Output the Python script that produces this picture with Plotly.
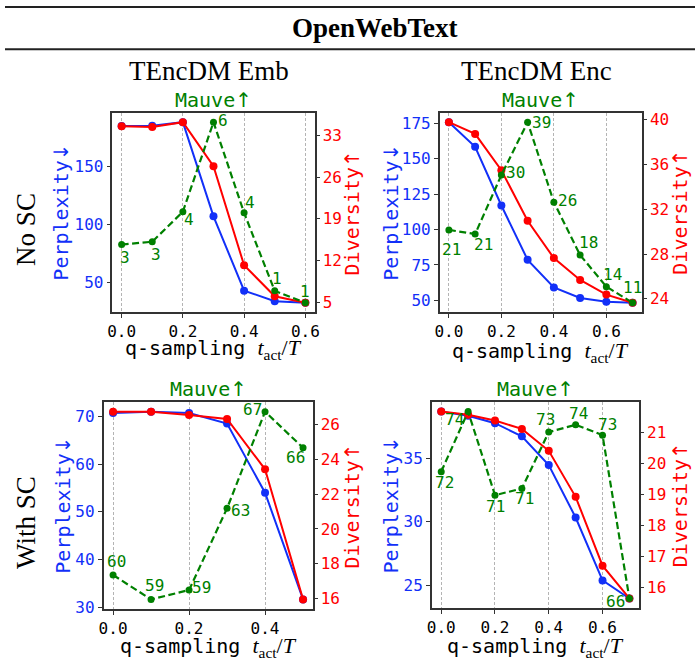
import plotly.graph_objects as go

W, H = 700, 664

# ---------------- data ----------------
t_emb_nosc = [0.0, 0.1, 0.2, 0.3, 0.4, 0.5, 0.6]
ppl_emb_nosc = [185.3, 185.7, 188.7, 107.1, 42.7, 33.6, 32.2]
div_emb_nosc = [34.5, 34.4, 35.2, 27.8, 11.2, 6.0, 4.9]
mauve_emb_nosc = [2.61, 2.69, 3.52, 6.0, 3.49, 1.33, 1.0]
mauve_lbl_emb_nosc = ["3", "3", "4", "6", "4", "1", "1"]

t_enc_nosc = [0.0, 0.1, 0.2, 0.3, 0.4, 0.5, 0.6, 0.7]
ppl_enc_nosc = [175.7, 158.3, 116.9, 78.6, 59.1, 51.7, 49.0, 48.3]
div_enc_nosc = [39.79, 38.74, 35.49, 30.98, 27.64, 25.69, 24.38, 23.65]
mauve_enc_nosc = [22.3, 21.65, 30.8, 39.0, 26.6, 18.4, 13.5, 11.0]
mauve_lbl_enc_nosc = ["21", "21", "30", "39", "26", "18", "14", "11"]

t_emb_sc = [0.0, 0.1, 0.2, 0.3, 0.4, 0.5]
ppl_emb_sc = [70.7, 71.0, 70.7, 68.5, 54.0, 31.6]
div_emb_sc = [26.76, 26.76, 26.57, 26.34, 23.44, 15.94]
mauve_emb_sc = [60.04, 59.0, 59.4, 62.88, 67.0, 65.46]
mauve_lbl_emb_sc = ["60", "59", "59", "63", "67", "66"]

t_enc_sc = [0.0, 0.1, 0.2, 0.3, 0.4, 0.5, 0.6, 0.7]
ppl_enc_sc = [38.66, 38.33, 37.75, 36.72, 34.46, 30.33, 25.38, 23.96]
div_enc_sc = [21.68, 21.58, 21.39, 21.12, 20.41, 18.92, 16.69, 15.63]
mauve_enc_sc = [71.77, 74.5, 70.7, 71.0, 73.57, 73.9, 73.43, 66.0]
mauve_lbl_enc_sc = ["72", "74", "71", "71", "73", "74", "73", "66"]

xticks_a = [0.0, 0.2, 0.4, 0.6]
xticks_b = [0.0, 0.2, 0.4]
ppl_ticks_1 = [50, 100, 150]
div_ticks_1 = [5, 12, 19, 26, 33]
ppl_ticks_2 = [50, 75, 100, 125, 150, 175]
div_ticks_2 = [24, 28, 32, 36, 40]
ppl_ticks_3 = [30, 40, 50, 60, 70]
div_ticks_3 = [16, 18, 20, 22, 24, 26]
ppl_ticks_4 = [25, 30, 35]
div_ticks_4 = [16, 17, 18, 19, 20, 21, 22]

# ---------------- styling / layout (pixels) ----------------
BLUE = "#1230f8"
RED = "#ff0000"
GREEN = "#008000"
MONO = "DejaVu Sans Mono"
SERIF = "Liberation Serif"

panels = [
    dict(t=t_emb_nosc, ppl=ppl_emb_nosc, div=div_emb_nosc, mv=mauve_emb_nosc, lbl=mauve_lbl_emb_nosc,
         xt=xticks_a, pt=ppl_ticks_1, dt=div_ticks_1, rect=(109, 112, 314, 314),
         off=[(3.3, 12.7), (3.3, 12.3), (6.3, 8), (10, -1.3), (6, -10), (2.7, -12), (0, -11.7)],
         ppl_x=57, div_x=352, xl_y=352),
    dict(t=t_enc_nosc, ppl=ppl_enc_nosc, div=div_enc_nosc, mv=mauve_enc_nosc, lbl=mauve_lbl_enc_nosc,
         xt=xticks_a, pt=ppl_ticks_2, dt=div_ticks_2, rect=(441, 112, 646, 314),
         off=[(3, 19.7), (8.3, 10.7), (14.3, -2.3), (14.3, 0), (13.3, -2), (8.3, -12.3), (6, -12.3), (0, -15)],
         ppl_x=392, div_x=685, xl_y=355),
    dict(t=t_emb_sc, ppl=ppl_emb_sc, div=div_emb_sc, mv=mauve_emb_sc, lbl=mauve_lbl_emb_sc,
         xt=xticks_b, pt=ppl_ticks_3, dt=div_ticks_3, rect=(100, 406, 312, 616),
         off=[(3.3, -13.3), (3.7, -13.7), (12.7, -2.3), (13.3, 2.3), (-12.3, -2.3), (-7.7, 10)],
         ppl_x=58, div_x=352, xl_y=655),
    dict(t=t_enc_sc, ppl=ppl_enc_sc, div=div_enc_sc, mv=mauve_enc_sc, lbl=mauve_lbl_enc_sc,
         xt=xticks_a, pt=ppl_ticks_4, dt=div_ticks_4, rect=(433, 406, 643, 615),
         off=[(3.3, 11.3), (-13.7, 8.3), (0.3, 11.7), (2.3, 10), (-3.3, -12.3), (2.7, -11.7), (5.3, -10.7), (-14.3, 2.7)],
         ppl_x=392, div_x=685, xl_y=655),
]


def padded(vals, frac=0.05):
    lo, hi = min(vals), max(vals)
    d = (hi - lo) * frac
    return [lo - d, hi + d]


def px(x):
    return x / W


def py(y):
    return 1 - y / H


fig = go.Figure()
layout = dict(
    width=W, height=H, margin=dict(l=0, r=0, t=0, b=0),
    paper_bgcolor="white", plot_bgcolor="white", showlegend=False,
)
annotations = []
shapes = []

for i, p in enumerate(panels):
    n = i + 1
    xa = f"x{n}" if n > 1 else "x"
    ya1, ya2, ya3 = f"y{3*i+1}" if i > 0 else "y", f"y{3*i+2}", f"y{3*i+3}"
    xkey = f"xaxis{n}" if n > 1 else "xaxis"
    yk1 = f"yaxis{3*i+1}" if i > 0 else "yaxis"
    yk2, yk3 = f"yaxis{3*i+2}", f"yaxis{3*i+3}"
    x0, y0, x1, y1 = p["rect"]

    layout[xkey] = dict(
        domain=[px(x0), px(x1)], anchor=ya1, range=padded(p["t"]),
        tickvals=p["xt"], tickformat=".1f", ticks="outside", ticklen=4, tickwidth=1,
        tickcolor="#333", tickfont=dict(family=MONO, size=16, color="black"),
        showline=True, mirror=True, linecolor="#333", linewidth=1.5,
        showgrid=True, gridcolor="#b4b4b4", gridwidth=0.8, griddash="3px,2px", zeroline=False,
    )
    layout[yk1] = dict(
        domain=[py(y1), py(y0)], anchor=xa, range=padded(p["ppl"]),
        tickvals=p["pt"], ticks="outside", ticklen=4, tickwidth=1, tickcolor="#333",
        tickfont=dict(family=MONO, size=16, color=BLUE),
        showline=True, mirror=True, linecolor="#333", linewidth=1.5,
        showgrid=False, zeroline=False,
    )
    layout[yk2] = dict(
        overlaying=ya1, anchor=xa, side="right", range=padded(p["div"]),
        tickvals=p["dt"], ticks="outside", ticklen=4, tickwidth=1, tickcolor="#333",
        tickfont=dict(family=MONO, size=16, color=RED),
        showline=False, showgrid=False, zeroline=False,
    )
    layout[yk3] = dict(overlaying=ya1, anchor=xa, range=padded(p["mv"]), visible=False)

    fig.add_trace(go.Scatter(x=p["t"], y=p["ppl"], xaxis=xa, yaxis=ya1, mode="lines+markers",
                             line=dict(color=BLUE, width=2), marker=dict(color=BLUE, size=8)))
    fig.add_trace(go.Scatter(x=p["t"], y=p["mv"], xaxis=xa, yaxis=ya3, mode="lines+markers",
                             line=dict(color=GREEN, width=2.2, dash="7px,3.5px"),
                             marker=dict(color=GREEN, size=7)))
    fig.add_trace(go.Scatter(x=p["t"], y=p["div"], xaxis=xa, yaxis=ya2, mode="lines+markers",
                             line=dict(color=RED, width=2), marker=dict(color=RED, size=8)))

    for xv, yv, txt, (dx, dy) in zip(p["t"], p["mv"], p["lbl"], p["off"]):
        annotations.append(dict(x=xv, y=yv, xref=xa, yref=ya3, text=txt, showarrow=False,
                                xshift=dx, yshift=-dy, xanchor="center", yanchor="middle",
                                font=dict(family=MONO, size=16, color=GREEN)))

    cx = (x0 + x1) / 2
    # Mauve title
    annotations.append(dict(x=px(cx), y=py(y0 - 13), xref="paper", yref="paper",
                            text="Mauve<span style='font-family:DejaVu Sans'>↑</span>",
                            showarrow=False, xanchor="center", yanchor="middle",
                            font=dict(family=MONO, size=20, color=GREEN)))
    # x label
    annotations.append(dict(x=px(cx), y=py(p["xl_y"]), xref="paper", yref="paper",
                            text="q-sampling <span style='font-family:Liberation Serif;font-size:22px'><i>t</i><sub>act</sub>/<i>T</i></span>",
                            showarrow=False, xanchor="center", yanchor="middle",
                            font=dict(family=MONO, size=20, color="black")))
    cy = (y0 + y1) / 2
    annotations.append(dict(x=px(p["ppl_x"]), y=py(cy), xref="paper", yref="paper",
                            text="Perplexity<span style='font-family:DejaVu Sans'>↓</span>",
                            textangle=-90, showarrow=False, xanchor="center", yanchor="middle",
                            font=dict(family=MONO, size=20, color=BLUE)))
    annotations.append(dict(x=px(p["div_x"]), y=py(cy), xref="paper", yref="paper",
                            text="Diversity<span style='font-family:DejaVu Sans'>↑</span>",
                            textangle=-90, showarrow=False, xanchor="center", yanchor="middle",
                            font=dict(family=MONO, size=20, color=RED)))

# header
for yy in (4, 47):
    shapes.append(dict(type="line", xref="paper", yref="paper", x0=0, x1=1, y0=py(yy), y1=py(yy),
                       line=dict(color="#222", width=2)))
annotations.append(dict(x=px(375), y=py(25), xref="paper", yref="paper", text="<b>OpenWebText</b>",
                        showarrow=False, xanchor="center", yanchor="middle",
                        font=dict(family=SERIF, size=27, color="black")))
annotations.append(dict(x=px(207), y=py(69), xref="paper", yref="paper", text="TEncDM Emb",
                        showarrow=False, xanchor="center", yanchor="middle",
                        font=dict(family=SERIF, size=27, color="black")))
annotations.append(dict(x=px(539), y=py(69), xref="paper", yref="paper", text="TEncDM Enc",
                        showarrow=False, xanchor="center", yanchor="middle",
                        font=dict(family=SERIF, size=27, color="black")))
annotations.append(dict(x=px(22), y=py(230), xref="paper", yref="paper", text="No SC", textangle=-90,
                        showarrow=False, xanchor="center", yanchor="middle",
                        font=dict(family=SERIF, size=27, color="black")))
annotations.append(dict(x=px(22), y=py(528), xref="paper", yref="paper", text="With SC", textangle=-90,
                        showarrow=False, xanchor="center", yanchor="middle",
                        font=dict(family=SERIF, size=27, color="black")))

layout["annotations"] = annotations
layout["shapes"] = shapes
fig.update_layout(**layout)
fig.write_html("out.html")
